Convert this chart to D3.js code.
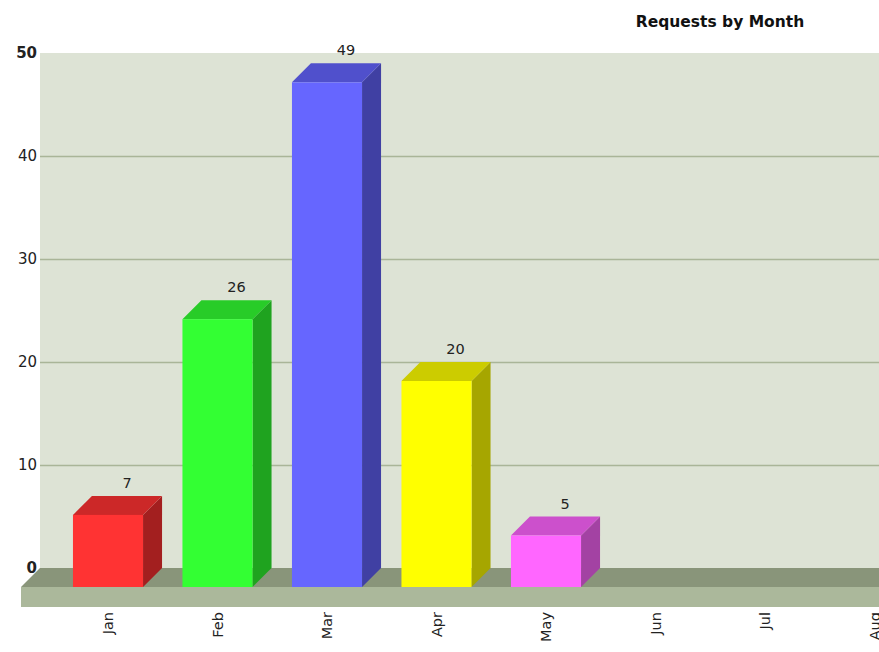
<!DOCTYPE html>
<html>
<head>
<meta charset="utf-8">
<script src="https://cdn.jsdelivr.net/npm/d3@7"></script>
<style>
  html, body { margin: 0; padding: 0; background: #ffffff; }
  svg { display: block; font-family: "DejaVu Sans", Verdana, sans-serif; }
</style>
</head>
<body>
<svg id="chart" width="879" height="652"></svg>
<script>
const title = "Requests by Month";
const months = ["Jan", "Feb", "Mar", "Apr", "May", "Jun", "Jul", "Aug"];
const requests = [7, 26, 49, 20, 5, null, null, null];
const yTicks = [0, 10, 20, 30, 40, 50];
const frontColors = ["#ff3333", "#33ff33", "#6666ff", "#ffff00", "#ff66ff"];
const topColors = ["#cc2828", "#28cc28", "#5050cc", "#cccc00", "#cc50cc"];
const sideColors = ["#a31f1f", "#1fa31f", "#4040a3", "#a6a600", "#a342a3"];

const W = 879, H = 652;
const D = 19; // 3D depth offset
const wallLeft = 40, wallTop = 53, wallBottom = 568;
const svg = d3.select("#chart");

const y = d3.scaleLinear().domain([0, 50]).range([wallBottom, wallTop]);
const x = d3.scaleBand().domain(months)
  .range([53.25, 929.25]).paddingInner(0.36).paddingOuter(0.18);
// x is front-plane coordinate; back plane = x + D

// back wall
svg.append("rect").attr("x", wallLeft).attr("y", wallTop)
  .attr("width", W + 50 - wallLeft).attr("height", wallBottom - wallTop)
  .attr("fill", "#dde3d5");

// gridlines
svg.append("g").selectAll("line").data(yTicks.filter(t => t > 0 && t < 50)).join("line")
  .attr("x1", wallLeft).attr("x2", W + 50)
  .attr("y1", d => Math.round(y(d)) + 0.5).attr("y2", d => Math.round(y(d)) + 0.5)
  .attr("stroke", "#a9b598").attr("stroke-width", 1.5);

// floor top (dark)
svg.append("path")
  .attr("d", `M${wallLeft - D},${wallBottom + D} L${wallLeft},${wallBottom} L${W + 50},${wallBottom} L${W + 50},${wallBottom + D} Z`)
  .attr("fill", "#89957a");
// floor front
svg.append("rect").attr("x", wallLeft - D).attr("y", wallBottom + D)
  .attr("width", W + 50).attr("height", 20).attr("fill", "#abb89b");

// bars
const barData = months.map((m, i) => ({ m, v: requests[i], i })).filter(d => d.v != null);
const g = svg.append("g");
const bw = x.bandwidth();
const yf = v => y(v) + D; // front plane y

barData.forEach(d => {
  const x0 = x(d.m), x1 = x0 + bw;
  const yt = yf(d.v), yb = yf(0);
  // side
  g.append("path")
    .attr("d", `M${x1},${yb} L${x1 + D},${yb - D} L${x1 + D},${yt - D} L${x1},${yt} Z`)
    .attr("fill", sideColors[d.i]);
  // top
  g.append("path")
    .attr("d", `M${x0},${yt} L${x0 + D},${yt - D} L${x1 + D},${yt - D} L${x1},${yt} Z`)
    .attr("fill", topColors[d.i]);
  // front
  g.append("rect").attr("x", x0).attr("y", yt).attr("width", bw).attr("height", yb - yt)
    .attr("fill", frontColors[d.i]);
  // value label
  g.append("text")
    .attr("x", x0 + D + bw / 2).attr("y", yt - D - 8)
    .attr("text-anchor", "middle").attr("font-size", 14.5).attr("fill", "#222")
    .text(d.v);
});

// y axis labels
const yAxis = d3.axisLeft(y).tickValues(yTicks).tickSize(0).tickPadding(0);
const ya = svg.append("g").attr("transform", `translate(${wallLeft - 3},0)`).call(yAxis);
ya.select(".domain").remove();
ya.selectAll("text")
  .attr("font-family", "DejaVu Sans, Verdana, sans-serif")
  .attr("font-size", 15).attr("fill", "#222")
  .attr("font-weight", d => (d === 0 || d === 50) ? "bold" : "normal");

// x axis labels (rotated)
svg.append("g").selectAll("text").data(months).join("text")
  .attr("transform", d => `translate(${x(d) + bw / 2},${wallBottom + D + 25}) rotate(-90)`)
  .attr("text-anchor", "end").attr("dy", "0.35em")
  .attr("font-size", 14.5).attr("fill", "#222")
  .text(d => d);

// title
svg.append("text").attr("x", 720).attr("y", 27)
  .attr("text-anchor", "middle").attr("font-size", 15.5).attr("font-weight", "bold")
  .attr("fill", "#111").text(title);
</script>
</body>
</html>
